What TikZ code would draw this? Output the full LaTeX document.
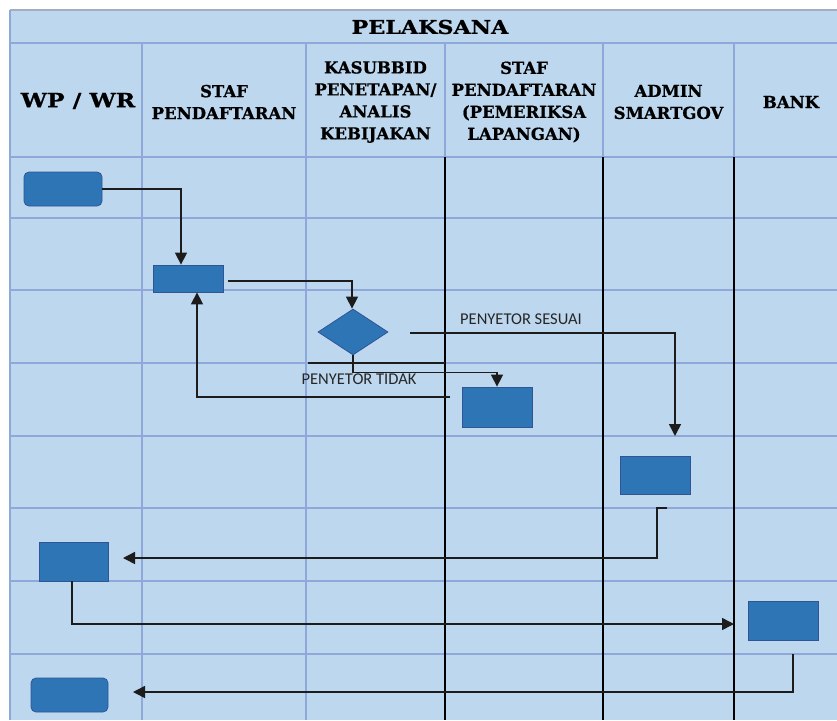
\documentclass[tikz,border=0pt]{standalone}
\usepackage{fontspec}
\usepackage{graphicx}
\setmainfont{DejaVu Serif}[BoldFeatures={FakeBold=0.8}]
\newfontfamily\lblfont{Carlito}
\usetikzlibrary{arrows.meta,shapes.geometric}
\definecolor{cellfill}{HTML}{BDD7EE}
\definecolor{gridblue}{HTML}{8FA8DA}
\definecolor{topgrey}{HTML}{A4AEC0}
\definecolor{boxfill}{HTML}{2E75B6}
\definecolor{boxedge}{HTML}{2F5597}
\definecolor{connclr}{HTML}{1C1C1C}
\tikzset{
  gridline/.style={draw=gridblue, line width=2pt},
  laneline/.style={draw=black, line width=1.6pt},
  procbox/.style={draw=boxedge, fill=boxfill, line width=0.8pt, inner sep=0pt},
  termbox/.style={procbox, rounded corners=5pt},
  decbox/.style={draw=boxedge, fill=boxfill, line width=0.8pt, diamond, inner sep=0pt, minimum width=70pt, minimum height=46pt, aspect=1.52},
  conn/.style={draw=connclr, line width=1.5pt, -{Triangle[length=12pt,width=12pt]}},
  plainconn/.style={draw=connclr, line width=1.5pt},
  hdr/.style={align=center, font=\bfseries\fontsize{16.5}{22}\selectfont, text=black, inner sep=0pt},
  lbl/.style={font=\lblfont\fontsize{16.5}{18}\selectfont, text=black!85, inner sep=0pt}
}
\begin{document}
\begin{tikzpicture}[x=1pt,y=-1pt]
\useasboundingbox (0,0) rectangle (837,720);
\fill[white] (0,0) rectangle (837,720);
\fill[cellfill] (10,10) rectangle (837,720);
% horizontal grid lines
\draw[draw=topgrey, line width=2pt] (10,10) -- (837,10);
\foreach \yy in {43,157,218,290,363,436,508,581,654}
  \draw[gridline] (10,\yy) -- (837,\yy);
% vertical grid lines
\draw[gridline] (10,10) -- (10,720);
\foreach \xx in {142,306}
  \draw[gridline] (\xx,43) -- (\xx,720);
\foreach \xx in {445,603,734}
  \draw[gridline] (\xx,43) -- (\xx,157);
\foreach \xx in {445,603,734}
  \draw[laneline] (\xx,157) -- (\xx,720);

% headers
\node[hdr] (title) at (430,27) {\scalebox{1.17}[1]{\fontsize{19}{22}\selectfont PELAKSANA}};
\node[hdr] (h1) at (78,101) {\scalebox{1.2}[1]{\fontsize{19.5}{22}\selectfont WP / WR}};
\node[hdr] (h2) at (224,102) {STAF\\PENDAFTARAN};
\node[hdr] (h3) at (375.5,102) {KASUBBID\\PENETAPAN/\\ANALIS\\KEBIJAKAN};
\node[hdr] (h4) at (524,102) {STAF\\PENDAFTARAN\\(PEMERIKSA\\LAPANGAN)};
\node[hdr] (h5) at (668.5,102) {ADMIN\\SMARTGOV};
\node[hdr] (h6) at (791,102) {BANK};

% shapes
\node[termbox, minimum width=78pt, minimum height=34pt] (s1) at (63,189) {};
\node[procbox, minimum width=70pt, minimum height=27pt] (s2) at (188,278.5) {};
\node[decbox] (d) at (353,332) {};
\node[procbox, minimum width=70pt, minimum height=40pt] (s4) at (497,407) {};
\node[procbox, minimum width=70pt, minimum height=38pt] (s5) at (655,475) {};
\node[procbox, minimum width=69pt, minimum height=39pt] (s6) at (73.5,561.5) {};
\node[procbox, minimum width=70pt, minimum height=39pt] (s7) at (783,620.5) {};
\node[termbox, minimum width=77pt, minimum height=34pt] (s8) at (69.5,695) {};

% free ends
\coordinate (cEnd) at (675,436);
\coordinate (eStart) at (450,397);
\coordinate (fStart) at (667,508);
\coordinate (fEnd) at (123,558);
\coordinate (gEnd) at (734,624);
\coordinate (hStart) at (793,654);
\coordinate (hEnd) at (133,692);
\coordinate (xA) at (308,363);
\coordinate (xB) at (445,363);

% connectors
\draw[conn] (s1.east) -| ([xshift=-7pt]s2.north);
\draw[conn] ([xshift=5pt,yshift=-2.5pt]s2.east) -| ([xshift=-1pt]d.north);
\draw[conn] ([xshift=22pt,yshift=-1pt]d.east) -| (cEnd);
\draw[conn] (d.south) -- ++(0,17) -| (s4.north);
\draw[plainconn] (xA) -- (xB);
\draw[conn] (eStart) -| ([xshift=9pt]s2.south);
\draw[conn] (fStart) -- ++(-10,0) |- (fEnd);
\draw[conn] ([xshift=-1.5pt]s6.south) |- (gEnd);
\draw[conn] (hStart) |- (hEnd);

% labels
\node[lbl, anchor=west] (l1) at (460,319) {PENYETOR SESUAI};
\node[lbl] (l2) at (359,379) {PENYETOR TIDAK};
\end{tikzpicture}
\end{document}
